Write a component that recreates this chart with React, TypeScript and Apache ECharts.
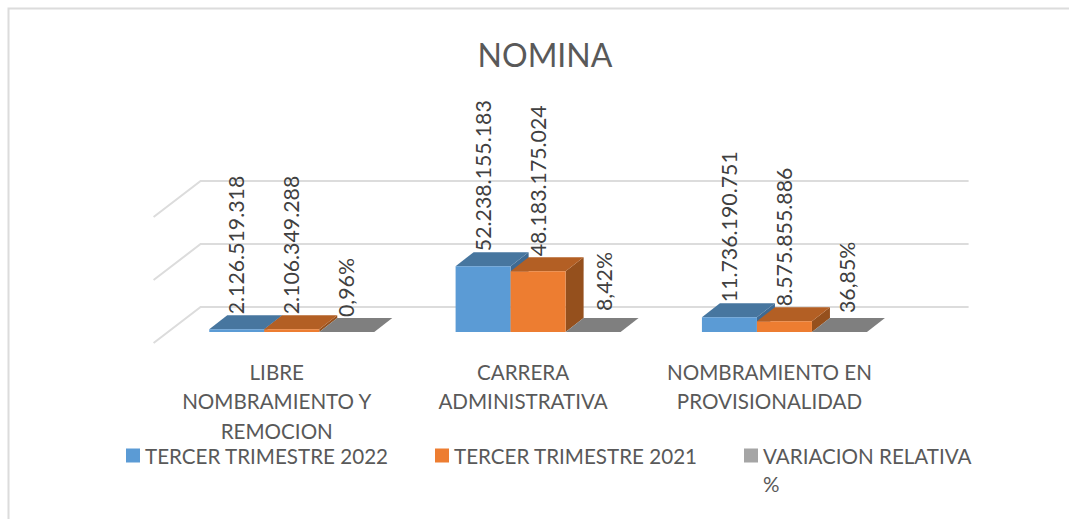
import React, { useEffect, useRef } from "react";
import * as echarts from "echarts";

const title = "NOMINA";
const categories = ["LIBRE\nNOMBRAMIENTO Y\nREMOCION", "CARRERA\nADMINISTRATIVA", "NOMBRAMIENTO EN\nPROVISIONALIDAD"];
const seriesNames = ["TERCER TRIMESTRE 2022", "TERCER TRIMESTRE 2021", "VARIACION RELATIVA %"];
const trimestre2022 = [2126519318, 52238155183, 11736190751];
const trimestre2021 = [2106349288, 48183175024, 8575855886];
const variacion = [0.0096, 0.0842, 0.3685];
const wallTicks = [0, 50000000000, 100000000000];

const FONT = "Lato";
const TEXT = "#595959";
const WALL = "#DCDCDC";
const DEPTH_X = 18;
const DEPTH_Y = 14;
const BAR_RATIO = 55 / 246.33;
const LABEL_SIZE = 20.6;

const faces = [
  { front: "#5B9BD5", top: "#47769F", side: "#3F6A92" },
  { front: "#ED7D31", top: "#B35F24", side: "#95501D" },
  { front: "#A5A5A5", top: "#7F7F7F", side: "#6B6B6B" },
];

// Hand-placed data labels of the grey series in the reference (px from the default spot).
const labelNudge = [
  [[0, 0], [0, 0], [0, 0]],
  [[0, 0], [0, 0], [0, 0]],
  [[0, 0], [11, -6], [8, -4]],
];

const money = (v: number) => String(v).replace(/\B(?=(\d{3})+$)/g, ".");
const percent = (v: number) => (v * 100).toFixed(2).replace(".", ",") + "%";

function barSeries(index: number, values: number[], fmt: (v: number) => string) {
  const face = faces[index];
  return {
    type: "custom",
    name: seriesNames[index],
    xAxisIndex: 0,
    yAxisIndex: 0,
    itemStyle: { color: face.front },
    encode: { x: 0, y: 1 },
    data: values.map((v, i) => [i, v]),
    z: 3 + index,
    renderItem: (_p: any, api: any) => {
      const cat = api.value(0);
      const v = api.value(1);
      const top = api.coord([cat, v]);
      const base = api.coord([cat, 0]);
      const w = api.size([1, 0])[0] * BAR_RATIO;
      const x0 = top[0] + (index - 1.5) * w;
      const x1 = x0 + w;
      const yt = top[1];
      const yb = base[1];
      const nudge = labelNudge[index][cat];
      const poly = (points: number[][], fill: string) => ({
        type: "polygon",
        shape: { points },
        style: { fill },
      });
      return {
        type: "group",
        children: [
          poly([[x1, yt], [x1 + DEPTH_X, yt - DEPTH_Y], [x1 + DEPTH_X, yb - DEPTH_Y], [x1, yb]], face.side),
          poly([[x0, yt], [x0 + DEPTH_X, yt - DEPTH_Y], [x1 + DEPTH_X, yt - DEPTH_Y], [x1, yt]], face.top),
          { type: "rect", shape: { x: x0, y: yt, width: w, height: yb - yt }, style: { fill: face.front } },
          {
            type: "text",
            x: (x0 + x1) / 2 - 0.5 + nudge[0],
            y: yt - DEPTH_Y - 1 + nudge[1],
            rotation: Math.PI / 2,
            z2: 50,
            style: {
              text: fmt(v),
              fontFamily: FONT,
              fontSize: 21.3,
              fill: "#404040",
              align: "left",
              verticalAlign: "middle",
            },
          },
        ],
      };
    },
  };
}

const wallSeries = {
  type: "custom",
  silent: true,
  xAxisIndex: 0,
  yAxisIndex: 0,
  z: 1,
  data: wallTicks.map((t) => [0, t]),
  encode: { y: 1 },
  renderItem: (params: any, api: any) => {
    const y = api.coord([0, api.value(1)])[1];
    const cs = params.coordSys;
    const xb = cs.x + 32;
    return {
      type: "polyline",
      shape: { points: [[cs.x - 15, y + 11], [xb, y - 25], [cs.x + cs.width + 61, y - 25]] },
      style: { stroke: WALL, lineWidth: 2, fill: "none" },
    };
  },
};

const legendAt = (i: number, left: number, label: string) => ({
  left,
  top: 445,
  padding: 0,
  itemWidth: 14,
  itemHeight: 14,
  icon: "rect",
  selectedMode: false,
  formatter: () => label,
  textStyle: { fontFamily: FONT, fontSize: LABEL_SIZE, color: TEXT },
  data: [{ name: seriesNames[i], itemStyle: { color: faces[i].front } }],
});

export default function App() {
  const ref = useRef<HTMLDivElement>(null);
  useEffect(() => {
    const chart = echarts.init(ref.current!, null, { renderer: "svg" });
    chart.setOption({
      animation: false,
      backgroundColor: "#FFFFFF",
      title: {
        text: title,
        left: 540,
        top: 33,
        textAlign: "center",
        textStyle: { fontFamily: FONT, fontSize: 32, fontWeight: "normal", color: TEXT },
      },
      grid: [
        { left: 168.6, top: 206, width: 739, height: 126 },
        { left: 153.6, top: 206, width: 739, height: 126 },
      ],
      xAxis: [
        { type: "category", gridIndex: 0, data: categories, show: false },
        {
          type: "category",
          gridIndex: 1,
          data: categories,
          axisLine: { show: false },
          axisTick: { show: false },
          axisLabel: {
            margin: 25,
            interval: 0,
            fontFamily: FONT,
            fontSize: LABEL_SIZE,
            lineHeight: 29.5,
            color: TEXT,
            align: "center",
          },
        },
      ],
      yAxis: [
        { type: "value", gridIndex: 0, min: 0, max: 100000000000, interval: 50000000000, show: false },
        { type: "value", gridIndex: 1, min: 0, max: 100000000000, interval: 50000000000, show: false },
      ],
      legend: [
        legendAt(0, 126, "TERCER TRIMESTRE 2022"),
        legendAt(1, 435, "TERCER TRIMESTRE 2021"),
        legendAt(2, 744, "VARIACION RELATIVA"),
      ],
      graphic: [
        {
          type: "polyline",
          silent: true,
          shape: { points: [[8.5, 519], [8.5, 8.5], [1069, 8.5]] },
          style: { stroke: WALL, lineWidth: 2, fill: "none" },
        },
        {
          type: "text",
          left: 763,
          top: 473,
          style: { text: "%", fontFamily: FONT, fontSize: LABEL_SIZE, fill: TEXT },
        },
      ],
      series: [
        wallSeries,
        barSeries(0, trimestre2022, money),
        barSeries(1, trimestre2021, money),
        barSeries(2, variacion, percent),
      ],
    });
    return () => chart.dispose();
  }, []);
  return <div ref={ref} style={{ position: "absolute", left: 0, top: 0, width: 1069, height: 519 }} />;
}
